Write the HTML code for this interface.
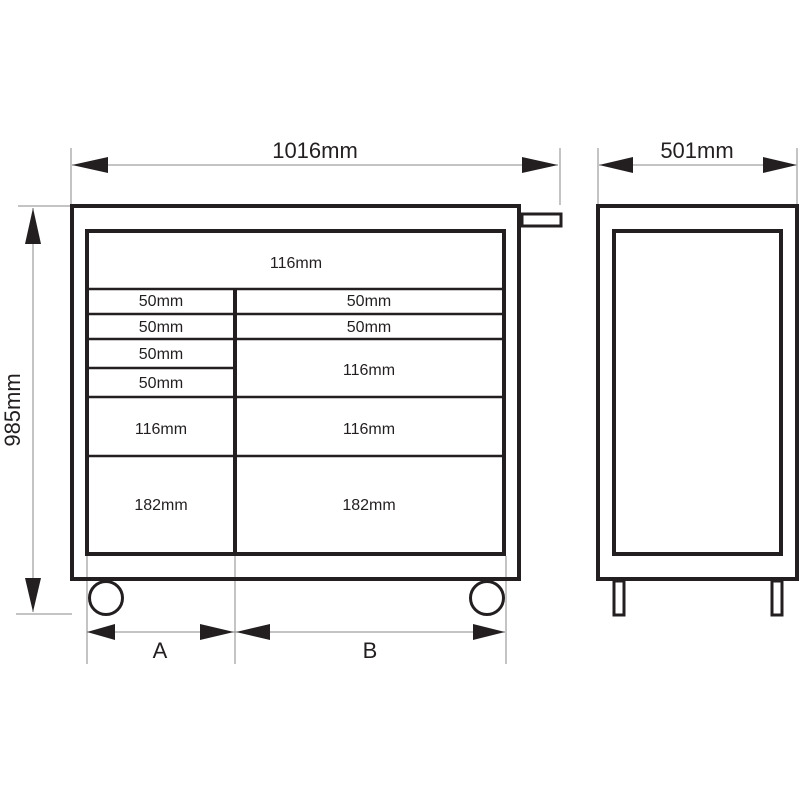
<!DOCTYPE html>
<html><head><style>body{margin:0;background:#fff}svg{display:block}</style></head><body>
<svg width="800" height="800" viewBox="0 0 800 800" xmlns="http://www.w3.org/2000/svg" font-family="Liberation Sans, sans-serif" fill="#231f20">
<g stroke="#888" stroke-width="1" fill="none">
<line x1="71" y1="148" x2="71" y2="204"/><line x1="560" y1="148" x2="560" y2="205"/>
<line x1="72" y1="165" x2="558" y2="165"/>
<line x1="598" y1="148" x2="598" y2="204"/><line x1="797" y1="148" x2="797" y2="204"/>
<line x1="599" y1="165" x2="796" y2="165"/>
<line x1="18" y1="206" x2="70" y2="206"/><line x1="16" y1="614" x2="72" y2="614"/>
<line x1="33" y1="208" x2="33" y2="612"/>
<line x1="87" y1="556" x2="87" y2="664"/><line x1="235" y1="556" x2="235" y2="664"/><line x1="506" y1="556" x2="506" y2="664"/>
<line x1="87" y1="632" x2="505" y2="632"/>
</g>
<g stroke="none">
<polygon points="72,165 108,157 108,173"/><polygon points="558,165 522,157 522,173"/>
<polygon points="599,165 633,157 633,173"/><polygon points="797,165 763,157 763,173"/>
<polygon points="33,208 25,244 41,244"/><polygon points="33,612 25,578 41,578"/>
<polygon points="87,632 115,624 115,640"/><polygon points="234,632 200,624 200,640"/>
<polygon points="236,632 270,624 270,640"/><polygon points="505,632 473,624 473,640"/>
</g>
<g fill="none" stroke="#231f20">
<rect x="72" y="206" width="447" height="373" stroke-width="4"/>
<rect x="522" y="214" width="39" height="12" stroke-width="3"/>
<rect x="87" y="231" width="417" height="323" stroke-width="4"/>
<line x1="235" y1="289" x2="235" y2="554" stroke-width="4"/>
<g stroke-width="2.5">
<line x1="87" y1="289" x2="504" y2="289"/><line x1="87" y1="314" x2="504" y2="314"/>
<line x1="87" y1="339" x2="504" y2="339"/><line x1="87" y1="368" x2="235" y2="368"/>
<line x1="87" y1="397" x2="504" y2="397"/><line x1="87" y1="456" x2="504" y2="456"/>
</g>
</g>
<g fill="#fff" stroke="#231f20">
<circle cx="106" cy="598" r="16.5" stroke-width="3"/><circle cx="487" cy="598" r="16.5" stroke-width="3"/>
</g>
<g fill="none" stroke="#231f20">
<rect x="598" y="206" width="199" height="373" stroke-width="4"/>
<rect x="614" y="231" width="167" height="323" stroke-width="4"/>
<rect x="614" y="581" width="10" height="34" stroke-width="3"/>
<rect x="772" y="581" width="10" height="34" stroke-width="3"/>
</g>
<g text-anchor="middle" font-size="16">
<text x="296" y="268">116mm</text>
<text x="161" y="306">50mm</text><text x="369" y="306">50mm</text>
<text x="161" y="332">50mm</text><text x="369" y="332">50mm</text>
<text x="161" y="359">50mm</text><text x="369" y="375">116mm</text>
<text x="161" y="388">50mm</text>
<text x="161" y="434">116mm</text><text x="369" y="434">116mm</text>
<text x="161" y="510">182mm</text><text x="369" y="510">182mm</text>
<text x="315" y="158" font-size="22">1016mm</text>
<text x="697" y="158" font-size="22">501mm</text>
<text x="160" y="658" font-size="22">A</text>
<text x="370" y="658" font-size="22">B</text>
<text x="0" y="0" font-size="22" transform="translate(20,410) rotate(-90)">985mm</text>
</g>
</svg>
</body></html>
